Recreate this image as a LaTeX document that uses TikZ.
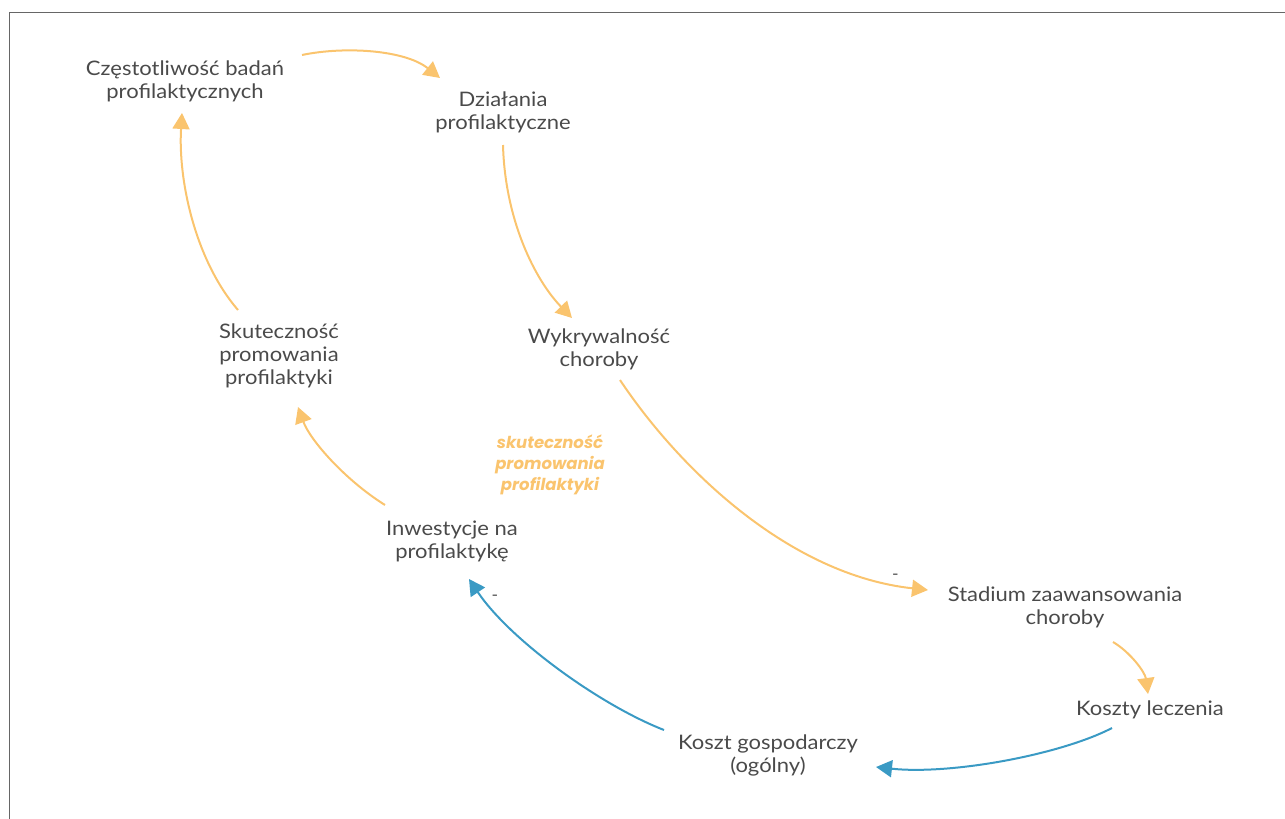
\documentclass[tikz,border=0pt]{standalone}
\usepackage{fontspec}
\setmainfont{Lato}[FakeStretch=1.1]
\newfontfamily\labfont{Poppins}
\usetikzlibrary{arrows.meta,calc}
\definecolor{txt}{HTML}{4A4A4A}
\definecolor{orng}{HTML}{FAC46E}
\definecolor{blu}{HTML}{3A9AC4}
\definecolor{frame}{HTML}{666666}
\tikzset{
  var/.style={align=center,text=txt,font=\fontsize{20}{23}\selectfont,inner sep=0pt},
  lab/.style={align=center,text=orng,font=\labfont\bfseries\itshape\fontsize{16.5}{21}\selectfont,inner sep=0pt},
  sign/.style={text=txt,font=\fontsize{16}{16}\selectfont,inner sep=0pt},
  posarr/.style={draw=orng,line width=2pt,-{Triangle[length=16pt,width=17pt]}},
  negarr/.style={draw=blu,line width=2pt,-{Triangle[length=16pt,width=17pt]}},
}
\begin{document}
\begin{tikzpicture}[x=1pt,y=-1pt]
\useasboundingbox (0,0) rectangle (1285,819);
\draw[frame,line width=1.5pt] (9.5,819) -- (9.5,12.5) -- (1285,12.5);
\node[var] (n1) at (185,81) {Częstotliwość badań\\profilaktycznych};
\node[var] (n2) at (503,112) {Działania\\profilaktyczne};
\node[var] (n3) at (599,349) {Wykrywalność\\choroby};
\node[var] (n4) at (1065,607) {Stadium zaawansowania\\choroby};
\node[var] (n5) at (1150,710) {Koszty leczenia};
\node[var] (n6) at (768,755) {Koszt gospodarczy\\(ogólny)};
\node[var] (n7) at (452,541) {Inwestycje na\\profilaktykę};
\node[var] (n8) at (279,356) {Skuteczność\\promowania\\profilaktyki};
\node[lab] (lab) at (550,465) {skuteczność\\promowania\\profilaktyki};
\draw[posarr] ($(n1)+(117,-26)$) .. controls (345,46) and (405,50) .. ($(n2)+(-63,-34)$);
\draw[posarr] ($(n2)+(0,33)$) .. controls (505,220) and (535,280) .. ($(n3)+(-27,-31)$);
\draw[posarr] ($(n3)+(21,31)$) .. controls (680,470) and (790,575) .. ($(n4)+(-137,-17)$) node[sign,pos=0.92,above=4pt] (s1) {-};
\draw[posarr] ($(n4)+(48,35)$) .. controls (1130,652) and (1145,672) .. ($(n5)+(-2,-16)$);
\draw[negarr] ($(n5)+(-38,18)$) .. controls (1060,755) and (950,775) .. ($(n6)+(108,12)$);
\draw[negarr] ($(n6)+(-104,-25)$) .. controls (600,705) and (510,640) .. ($(n7)+(17,38)$) node[sign,pos=0.9,right=8pt] (s2) {-};
\draw[posarr] ($(n7)+(-67,-36)$) .. controls (345,480) and (310,440) .. ($(n8)+(19,51)$);
\draw[posarr] ($(n8)+(-41,-46)$) .. controls (195,260) and (178,180) .. ($(n1)+(-3,32)$);
\end{tikzpicture}
\end{document}
